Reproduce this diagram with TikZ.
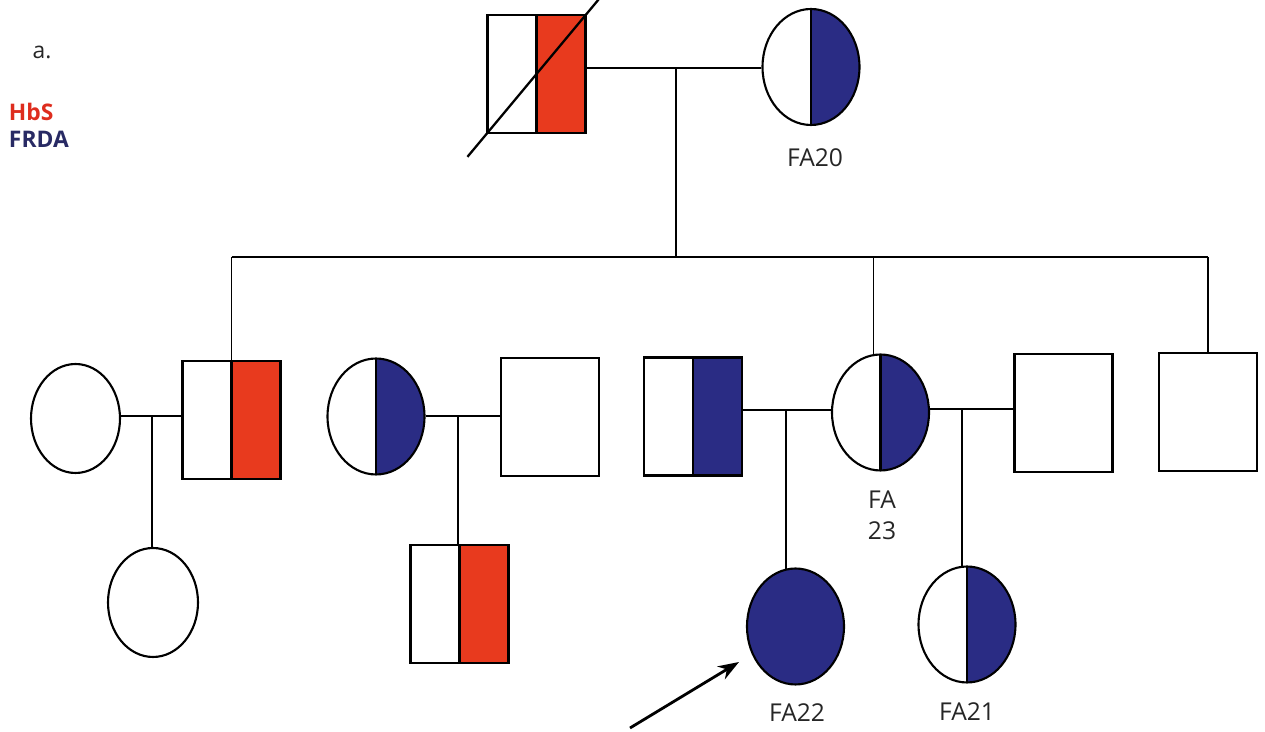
\documentclass[tikz,border=0pt]{standalone}
\usepackage{fontspec}
\setmainfont{Open Sans}
\usetikzlibrary{shapes.geometric,arrows.meta,calc}
\definecolor{hbsred}{RGB}{232,58,30}
\definecolor{frdanavy}{RGB}{42,44,132}
\definecolor{hbstext}{RGB}{222,45,30}
\definecolor{frdatext}{RGB}{40,42,100}
\begin{document}
\begin{tikzpicture}[x=0.02cm,y=-0.02cm,
  line width=1.1pt,
  sq/.style={rectangle,draw=black,line width=1.2pt,inner sep=0pt,minimum width=1.96cm,minimum height=2.36cm},
  ci/.style={ellipse,draw=black,line width=1.2pt,inner sep=0pt,minimum width=1.94cm,minimum height=2.32cm},
  halfred/.style={path picture={\fill[hbsred] (path picture bounding box.north) rectangle (path picture bounding box.south east);
     \draw[line width=1.2pt] (path picture bounding box.north) -- (path picture bounding box.south);}},
  halfblue/.style={path picture={\fill[frdanavy] (path picture bounding box.north) rectangle (path picture bounding box.south east);
     \draw[line width=1.2pt] (path picture bounding box.north) -- (path picture bounding box.south);}},
  lab/.style={font=\fontsize{14}{17.6}\selectfont,text=black!85,align=center},
  line/.style={line width=1.1pt}]
\useasboundingbox (0,0) rectangle (1265,732);
% legend
\node[font=\fontsize{13}{15}\selectfont,text=black!85] (a) at (42,52) {a.};
\node[font=\fontsize{13}{15}\selectfont\bfseries,text=hbstext,anchor=west,inner sep=0pt] (hbs) at (8,112) {HbS};
\node[font=\fontsize{13}{15}\selectfont\bfseries,text=frdatext,anchor=west,inner sep=0pt] (frda) at (8,139) {FRDA};
% generation I
\node[sq,halfred] (GF) at (536.5,74) {};
\node[ci,halfblue] (FA20) at (811,67) {};
\node[lab] (l20) at (815,158) {FA20};
\draw[line width=1.3pt] ($(GF.south west)!-0.19!(GF.north east)$) -- ($(GF.south west)!1.12!(GF.north east)$);
% generation II
\node[ci,minimum width=1.78cm,minimum height=2.18cm] (C1) at (75.5,418.5) {};
\node[sq,halfred] (S2) at (231.5,420) {};
\node[ci,halfblue] (C3) at (376,416.5) {};
\node[sq] (S4) at (550,417) {};
\node[sq,halfblue] (S5) at (693,416.5) {};
\node[ci,halfblue] (FA23) at (880.5,412.5) {};
\node[lab] (l23) at (882,515.5) {FA\\23};
\node[sq] (S7) at (1063.5,413) {};
\node[sq] (S8) at (1208,412) {};
% generation III
\node[ci,minimum width=1.8cm,minimum height=2.18cm] (C1c) at (153,602.5) {};
\node[sq,halfred] (S4c) at (459.5,604) {};
\node[ci,fill=frdanavy] (FA22) at (795.5,626.5) {};
\node[lab] (l22) at (797,713) {FA22};
\node[ci,halfblue] (FA21) at (967,624.5) {};
\node[lab] (l21) at (967,712) {FA21};
% marriage and descent lines
\coordinate (m1) at (676,68);
\draw[line] (GF.east |- m1) -- (FA20.west |- m1);
\coordinate (sib) at (676,257);
\draw[line] (m1) -- (sib);
\draw[line] (S2.north |- sib) -- (S8.north |- sib);
\draw[line] (S2.north |- sib) -- (S2.north);
\draw[line] ([xshift=-0.14cm]FA23.north |- sib) -- ([xshift=-0.14cm,yshift=-0.01cm]FA23.north);
\draw[line] (S8.north |- sib) -- (S8.north);
% couple C1 - S2
\coordinate (m2) at (152,416);
\draw[line] (C1.east |- m2) -- (S2.west |- m2);
\draw[line] (m2) -- (m2 |- C1c.north);
% couple C3 - S4
\coordinate (m3) at (458,416);
\draw[line] (C3.east |- m3) -- (S4.west |- m3);
\draw[line] (m3) -- (m3 |- S4c.north);
% couple S5 - FA23
\coordinate (m4) at (786,410);
\draw[line] (S5.east |- m4) -- (FA23.west |- m4);
\draw[line] (m4) -- ($(m4 |- FA22.north)+(0,1.5)$);
% couple FA23 - S7
\coordinate (m5) at (962,409);
\draw[line] (FA23.east |- m5) -- (S7.west |- m5);
\draw[line] (m5) -- ($(m5 |- FA21.north)+(0,1)$);
% proband arrow
\coordinate (arrs) at (630,728);
\coordinate (arre) at (739,662);
\draw[line width=1.6pt,-{Stealth[length=0.42cm,width=0.3cm]}] (arrs) -- (arre);
\end{tikzpicture}
\end{document}
